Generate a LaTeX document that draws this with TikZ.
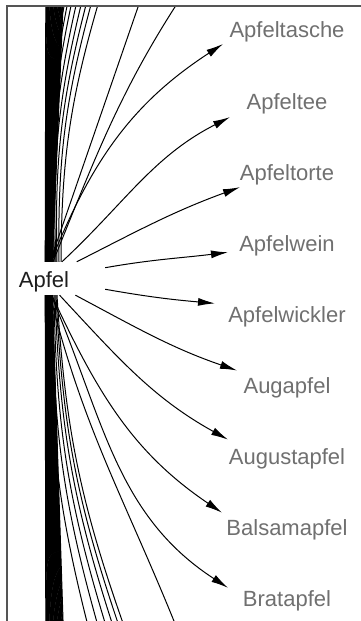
\documentclass[tikz,border=0pt]{standalone}
\usepackage{fontspec}
\setmainfont{Liberation Sans}
\usetikzlibrary{arrows.meta}

\definecolor{wortgrau}{RGB}{112,112,112}
\definecolor{apfelgrau}{RGB}{30,30,30}
\definecolor{randgrau}{RGB}{85,85,85}

\begin{document}
\begin{tikzpicture}[x=1pt,y=1pt,
    kante/.style={line width=1pt},
    pfeil/.style={kante,-{Latex[length=17pt,width=8pt]}},
    rahmen/.style={draw=randgrau,line width=1.3pt},
    wurzel/.style={font=\fontsize{22}{26}\selectfont,text=apfelgrau,
        minimum width=122pt,minimum height=33pt,inner sep=0pt,
        text height=18.4pt,text depth=0pt},
    wort/.style={font=\fontsize{22}{26}\selectfont,text=wortgrau,
        anchor=base,inner sep=0pt}]

\path[use as bounding box,fill=white] (0,0) rectangle (361,621);

% Knoten
\node[wurzel] (apfel) at (44,342.5) {Apfel};
\foreach \n/\w [count=\i from 0] in {tasche/Apfeltasche,tee/Apfeltee,torte/Apfeltorte,
    wein/Apfelwein,wickler/Apfelwickler,aug/Augapfel,august/Augustapfel,
    balsam/Balsamapfel,brat/Bratapfel}
  \node[wort] (\n) at (287,583-71.1*\i) {\w};

% Kanten zu Knoten ausserhalb des Bildes
\begin{scope}
  \clip (7.6,0) rectangle (361,614.4);

  \foreach \i in {0,...,30} {
    \coordinate (oben\i) at (45.8+0.58*\i,620);
    \coordinate (unten\i) at (45.8+0.58*\i,-5);
    \draw[kante] ([xshift={1.2+0.24*\i}]apfel.north) -- (oben\i);
    \draw[kante] ([xshift={1.2+0.24*\i}]apfel.south) -- (unten\i);
  }

  \foreach \s/\x [count=\i] in {8/65,9/68,10/72,11/77,12/82,13/87,15/92,17/99} {
    \coordinate (fo\i) at (\x,620);
    \draw[kante] ([xshift=\s]apfel.north) to[bend left=8] (fo\i);
  }

  \foreach \s/\x [count=\i] in {8/88,9/98,10/106,11/113,12/119,13/124} {
    \coordinate (fu\i) at (\x,-5);
    \draw[kante] ([xshift=\s]apfel.south) to[bend right=8] (fu\i);
  }

  \coordinate (fern1) at (147,640);
  \coordinate (fern2) at (192,640);
  \coordinate (fern3) at (176,-5);
  \draw[kante] ([xshift=6]apfel.north) -- (fern1);
  \draw[kante] ([xshift=9]apfel.north) to[out=68,in=236] (fern2);
  \draw[kante] ([xshift=6]apfel.south) to[out=-76,in=112] (fern3);
\end{scope}

% Pfeile zu den Woertern
\foreach \n/\a/\b/\dx/\dy in {tasche/68/213/-64/-6, tee/43/207/-57/-8,
    torte/27/200/-47/-7, wein/10/187/-59/-1, wickler/-10/175/-72/19,
    aug/-28/161/-50/23, august/-47/151/-59/25, balsam/-65/146/-65/23,
    brat/-67/147/-59/19}
  \draw[pfeil] (apfel) to[out=\a,in=\b] ([shift={(\dx,\dy)}]\n.base);

% Rahmen
\draw[rahmen] (7,0) -- (7,615) -- (361,615);

\end{tikzpicture}
\end{document}
